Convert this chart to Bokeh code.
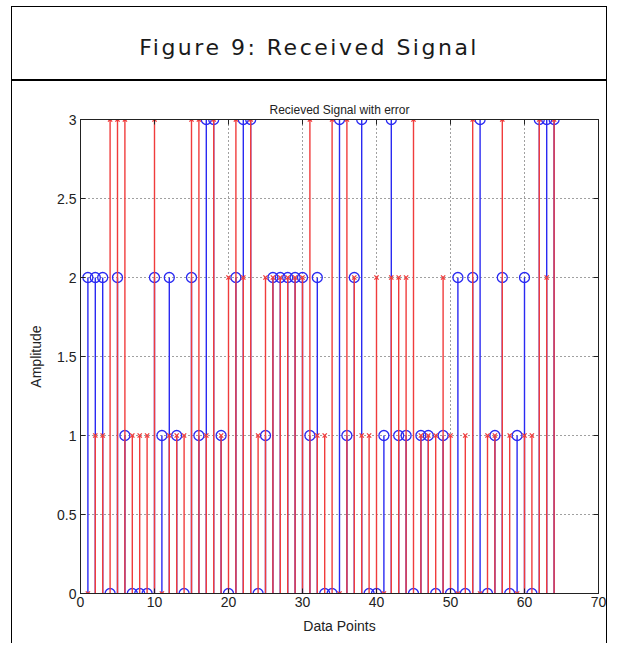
from bokeh.plotting import figure
from bokeh.models import Label, LinearAxis, FixedTicker, Range1d, ColumnDataSource
from bokeh.layouts import column
from bokeh.embed import file_html
from bokeh.resources import INLINE

# ---------------- data ----------------
header_title = "Figure 9: Received Signal"
plot_title = "Recieved Signal with error"
x_label = "Data Points"
y_label = "Amplitude"

data_points = list(range(1, 65))
received = [2, 2, 2, 0, 2, 1, 0, 0, 0, 2,
            1, 2, 1, 0, 2, 1, 3, 3, 1, 0,
            2, 3, 3, 0, 1, 2, 2, 2, 2, 2,
            1, 2, 0, 0, 3, 1, 2, 3, 0, 0,
            1, 3, 1, 1, 0, 1, 1, 0, 1, 0,
            2, 0, 2, 3, 0, 1, 2, 0, 1, 2,
            0, 3, 3, 3]
with_error = [0, 1, 1, 3, 3, 3, 1, 1, 1, 3,
              0, 1, 1, 1, 3, 3, 1, 3, 1, 2,
              3, 2, 3, 1, 2, 2, 2, 2, 2, 2,
              3, 1, 1, 3, 0, 3, 2, 1, 1, 2,
              0, 2, 2, 2, 3, 1, 1, 1, 2, 1,
              0, 1, 3, 0, 1, 1, 3, 1, 0, 1,
              1, 3, 2, 3]
x_ticks = [0, 10, 20, 30, 40, 50, 60, 70]
y_ticks = [0, 0.5, 1, 1.5, 2, 2.5, 3]
y_tick_labels = ["0", "0.5", "1", "1.5", "2", "2.5", "3"]

BLUE = "#2a2af2"
RED = "#f03c3c"
FONT = "Liberation Sans"
W = 594

src = ColumnDataSource(dict(x=data_points, rec=received, err=with_error))

# ---------------- header ----------------
header = figure(width=W, height=72, x_range=Range1d(0, 1), y_range=Range1d(0, 1),
                toolbar_location=None, output_backend="svg", min_border=0,
                x_axis_location=None, y_axis_location=None)
header.outline_line_color = None
header.grid.visible = False
header.styles = {"letter-spacing": "2.5px"}
# header frame is aligned with the plot frame below; offset puts the spaced text in the box centre
header.add_layout(Label(x=0.381, y=0.44, text=header_title, text_align="center",
                        text_baseline="middle", text_font="DejaVu Sans",
                        text_font_size="22px", text_color="#1a1a1a"))

# ---------------- main plot ----------------
p = figure(width=W, height=564, x_range=Range1d(0, 70), y_range=Range1d(0, 3),
           toolbar_location=None, output_backend="svg", title=plot_title,
           min_border_left=68, min_border_right=8, min_border_top=38, min_border_bottom=52)
p.styles = {"border-top": "2px solid #000"}
p.title.align = "center"
p.title.text_font = FONT
p.title.text_font_size = "12px"
p.title.text_font_style = "normal"
p.title.text_color = "#222222"
p.title.standoff = 5
p.outline_line_color = "#222222"

for ax in (p.xaxis[0], p.yaxis[0]):
    ax.major_tick_in = 5
    ax.major_tick_out = 0
    ax.minor_tick_line_color = None
    ax.axis_line_color = "#222222"
    ax.major_tick_line_color = "#222222"
    ax.major_label_text_font = FONT
    ax.major_label_text_font_size = "14px"
    ax.major_label_text_color = "#222222"
    ax.axis_label_text_font = FONT
    ax.axis_label_text_font_size = "14px"
    ax.axis_label_text_font_style = "normal"
    ax.axis_label_text_color = "#222222"

p.xaxis.ticker = FixedTicker(ticks=x_ticks)
p.yaxis.ticker = FixedTicker(ticks=y_ticks)
p.yaxis.major_label_overrides = {t: s for t, s in zip(y_ticks, y_tick_labels)}
p.xaxis.axis_label = x_label
p.yaxis.axis_label = y_label
p.xaxis.major_label_standoff = 3
p.yaxis.major_label_standoff = 4
p.xaxis.axis_label_standoff = 8
p.yaxis.axis_label_standoff = 10

for loc, ticks in (("right", y_ticks), ("above", x_ticks)):
    ax = LinearAxis(ticker=FixedTicker(ticks=ticks), major_label_text_font_size="1px",
                    major_label_text_color=None, major_label_text_alpha=0,
                    major_tick_in=5, major_tick_out=0, minor_tick_line_color=None,
                    axis_line_color="#222222", major_tick_line_color="#222222",
                    major_label_standoff=0)
    p.add_layout(ax, loc)

p.xgrid.ticker = FixedTicker(ticks=x_ticks)
p.ygrid.ticker = FixedTicker(ticks=y_ticks)
p.grid.grid_line_color = "#000000"
p.grid.grid_line_alpha = 0.75
p.grid.grid_line_dash = "1 3"

# blue stems (received) then red stems on top
p.segment(x0="x", y0=0, x1="x", y1="rec", source=src, line_color=BLUE, line_width=1.4)
p.scatter(x="x", y="rec", source=src, marker="circle", size=10, fill_color=None,
          line_color=BLUE, line_width=1.3)
p.segment(x0="x", y0=0, x1="x", y1="err", source=src, line_color=RED, line_width=1.4)
p.scatter(x="x", y="err", source=src, marker="x", size=6, line_color=RED, line_width=1.3)

layout = column(header, p, margin=(6, 0, 0, 11),
                styles={"border-left": "1px solid #000", "border-right": "1px solid #000",
                        "border-top": "1px solid #000"})

open("out.html", "w").write(file_html(layout, INLINE))
